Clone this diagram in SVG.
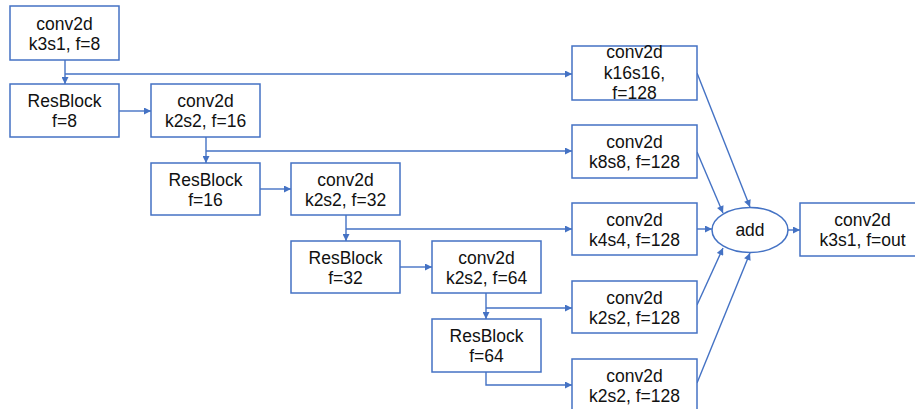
<svg xmlns="http://www.w3.org/2000/svg" width="915" height="409" viewBox="0 0 915 409">
<style>
.box{fill:#fff;stroke:#4472C4;stroke-width:1.5}
.t{font-family:"Liberation Sans",Arial,sans-serif;font-size:17.5px;fill:#111;text-anchor:middle}
.c{fill:none;stroke:#4472C4;stroke-width:1.4}
</style>
<defs>
<marker id="ah" viewBox="0 0 10 10" refX="10" refY="5" markerWidth="9" markerHeight="7" markerUnits="userSpaceOnUse" orient="auto">
<path d="M0,0 L10,5 L0,10 z" fill="#4472C4"/>
</marker>
</defs>
<rect width="915" height="409" fill="#fff"/>
<g id="connectors">
<path class="c" d="M65,60 V84" marker-end="url(#ah)"/>
<path class="c" d="M65,74 H572" marker-end="url(#ah)"/>
<path class="c" d="M119,111 H151" marker-end="url(#ah)"/>
<path class="c" d="M206,137 V163" marker-end="url(#ah)"/>
<path class="c" d="M206,151 H572" marker-end="url(#ah)"/>
<path class="c" d="M260,189 H291" marker-end="url(#ah)"/>
<path class="c" d="M346,215 V241" marker-end="url(#ah)"/>
<path class="c" d="M346,229 H572" marker-end="url(#ah)"/>
<path class="c" d="M400,267 H432" marker-end="url(#ah)"/>
<path class="c" d="M486,293 V319" marker-end="url(#ah)"/>
<path class="c" d="M486,308 H572" marker-end="url(#ah)"/>
<path class="c" d="M486,372 V385 H572" marker-end="url(#ah)"/>
<path class="c" d="M697,229 H712" marker-end="url(#ah)"/>
<path class="c" d="M788,230 H800" marker-end="url(#ah)"/>
<path class="c" d="M697,73 L750,207" marker-end="url(#ah)"/>
<path class="c" d="M697,152 L723,213" marker-end="url(#ah)"/>
<path class="c" d="M697,305 L723,248" marker-end="url(#ah)"/>
<path class="c" d="M697,383 L750,253" marker-end="url(#ah)"/>
</g>
<g id="n1"><rect class="box" x="10" y="6" width="109" height="54"/><text class="t" x="64.5" y="29.5">conv2d</text><text class="t" x="64.5" y="49.5">k3s1, f=8</text></g>
<g id="n2"><rect class="box" x="10" y="84" width="109" height="53"/><text class="t" x="64.5" y="107">ResBlock</text><text class="t" x="64.5" y="127">f=8</text></g>
<g id="n3"><rect class="box" x="151" y="84" width="109" height="53"/><text class="t" x="205.5" y="107">conv2d</text><text class="t" x="205.5" y="127">k2s2, f=16</text></g>
<g id="n4"><rect class="box" x="151" y="163" width="109" height="52"/><text class="t" x="205.5" y="185.5">ResBlock</text><text class="t" x="205.5" y="205.5">f=16</text></g>
<g id="n5"><rect class="box" x="291" y="163" width="109" height="52"/><text class="t" x="345.5" y="185.5">conv2d</text><text class="t" x="345.5" y="205.5">k2s2, f=32</text></g>
<g id="n6"><rect class="box" x="291" y="241" width="109" height="52"/><text class="t" x="345.5" y="263.5">ResBlock</text><text class="t" x="345.5" y="283.5">f=32</text></g>
<g id="n7"><rect class="box" x="432" y="241" width="109" height="52"/><text class="t" x="486.5" y="263.5">conv2d</text><text class="t" x="486.5" y="283.5">k2s2, f=64</text></g>
<g id="n8"><rect class="box" x="432" y="319" width="109" height="53"/><text class="t" x="486.5" y="342">ResBlock</text><text class="t" x="486.5" y="362">f=64</text></g>
<g id="r1"><rect class="box" x="572" y="46" width="125" height="54"/><text class="t" x="634.5" y="58">conv2d</text><text class="t" x="634.5" y="79">k16s16,</text><text class="t" x="634.5" y="99">f=128</text></g>
<g id="r2"><rect class="box" x="572" y="125" width="125" height="53"/><text class="t" x="634.5" y="148">conv2d</text><text class="t" x="634.5" y="168">k8s8, f=128</text></g>
<g id="r3"><rect class="box" x="572" y="203" width="125" height="52"/><text class="t" x="634.5" y="225.5">conv2d</text><text class="t" x="634.5" y="245.5">k4s4, f=128</text></g>
<g id="r4"><rect class="box" x="572" y="281" width="125" height="52"/><text class="t" x="634.5" y="303.5">conv2d</text><text class="t" x="634.5" y="323.5">k2s2, f=128</text></g>
<g id="r5"><rect class="box" x="572" y="359" width="125" height="53"/><text class="t" x="634.5" y="382">conv2d</text><text class="t" x="634.5" y="402">k2s2, f=128</text></g>
<g id="add"><ellipse class="box" cx="750" cy="230" rx="38" ry="22.5"/><text class="t" x="750" y="235.5">add</text></g>
<g id="out"><rect class="box" x="800" y="203" width="125" height="53"/><text class="t" x="862.5" y="226">conv2d</text><text class="t" x="862.5" y="246">k3s1, f=out</text></g>
</svg>
